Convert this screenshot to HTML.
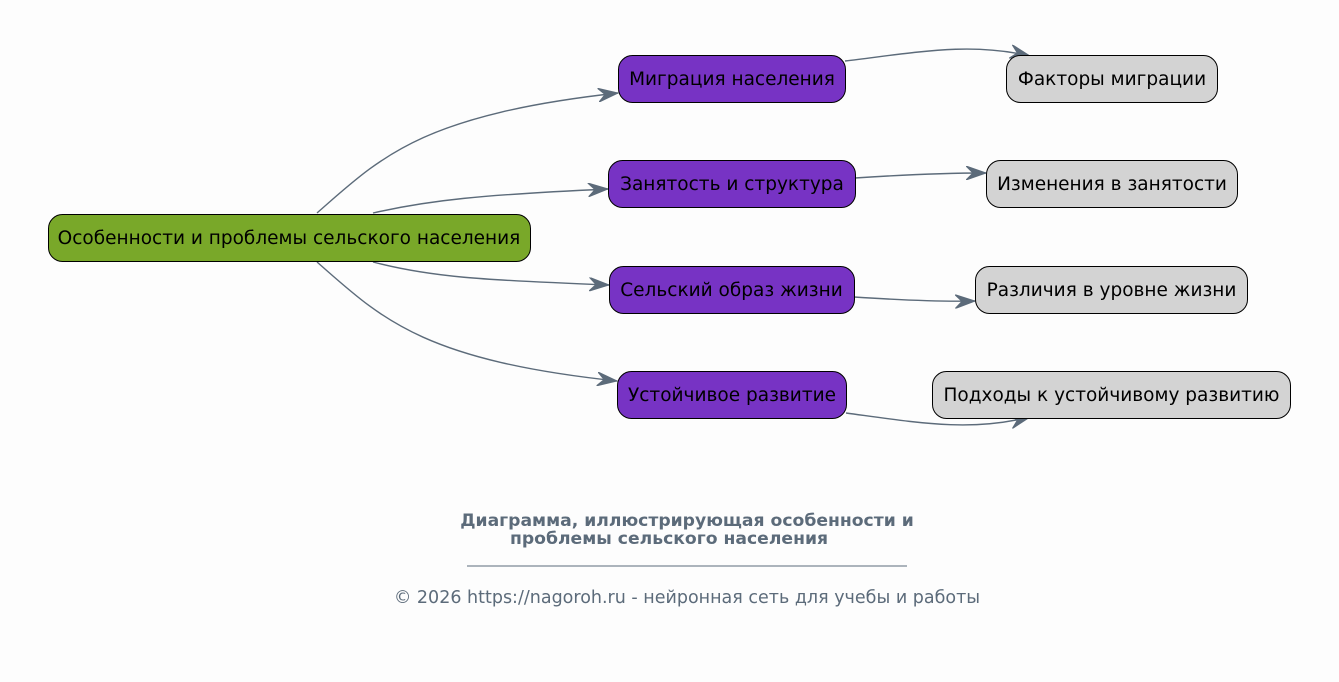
<!DOCTYPE html>
<html><head><meta charset="utf-8"><style>
html,body{margin:0;padding:0;background:#fdfdfd;}
svg{display:block;}
text{font-family:"DejaVu Sans","Liberation Sans",sans-serif;}
</style></head><body>
<svg width="1339" height="682" viewBox="0 0 1339 682" xmlns="http://www.w3.org/2000/svg">
<defs>
<marker id="a" markerWidth="22" markerHeight="14" refX="20" refY="7" orient="auto" markerUnits="userSpaceOnUse">
<path d="M0,0 L20,7 L0,14 L7,7 Z" fill="#5c6b7a" stroke="#5c6b7a" stroke-width="1"/>
</marker>
</defs>
<rect width="1339" height="682" fill="#fdfdfd"/>
<g fill="none" stroke="#5c6b7a" stroke-width="1.4" marker-end="url(#a)">
<path d="M317,213 C380,158 420,115 618,93"/>
<path d="M373,213 C430,200 480,195 608,189"/>
<path d="M373,262 C430,277 480,280 609,285"/>
<path d="M317,262 C380,317 420,360 617,381"/>
<path d="M845,61 C920,52 970,42 1030,56"/>
<path d="M855,178 C900,175 940,173 986,173"/>
<path d="M854,297 C900,300 940,302 975,301"/>
<path d="M846,413 C920,423 970,432 1030,417"/>
</g>
<g stroke="#000" stroke-width="1">
<rect x="48.5" y="214.5" width="482" height="47" rx="14" fill="#79a829"/>
<rect x="618.5" y="55.5" width="227" height="47" rx="14" fill="#7733c4"/>
<rect x="608.5" y="160.5" width="247" height="47" rx="14" fill="#7733c4"/>
<rect x="609.5" y="266.5" width="245" height="47" rx="14" fill="#7733c4"/>
<rect x="617.5" y="371.5" width="229" height="47" rx="14" fill="#7733c4"/>
<rect x="1006.5" y="55.5" width="211" height="47" rx="14" fill="#d3d3d3"/>
<rect x="986.5" y="160.5" width="251" height="47" rx="14" fill="#d3d3d3"/>
<rect x="975.5" y="266.5" width="272" height="47" rx="14" fill="#d3d3d3"/>
<rect x="932.5" y="371.5" width="358" height="47" rx="14" fill="#d3d3d3"/>
</g>
<g font-size="18.5" fill="#000" text-anchor="middle">
<text x="289" y="244">Особенности и проблемы сельского населения</text>
<text x="732" y="85">Миграция населения</text>
<text x="732" y="190">Занятость и структура</text>
<text x="731.5" y="296">Сельский образ жизни</text>
<text x="732" y="401">Устойчивое развитие</text>
<text x="1112" y="85">Факторы миграции</text>
<text x="1112" y="190">Изменения в занятости</text>
<text x="1111.5" y="296">Различия в уровне жизни</text>
<text x="1111.5" y="401">Подходы к устойчивому развитию</text>
</g>
<g fill="#5c6b7a" text-anchor="middle">
<text x="687" y="526" font-size="17.2" font-weight="bold">Диаграмма, иллюстрирующая особенности и</text>
<text x="669" y="544" font-size="17.2" font-weight="bold">проблемы сельского населения</text>
<line x1="467" y1="566" x2="907" y2="566" stroke="#5c6b7a" stroke-width="1"/>
<text x="687" y="603" font-size="17.5">© 2026 https://nagoroh.ru - нейронная сеть для учебы и работы</text>
</g>
</svg>
</body></html>
